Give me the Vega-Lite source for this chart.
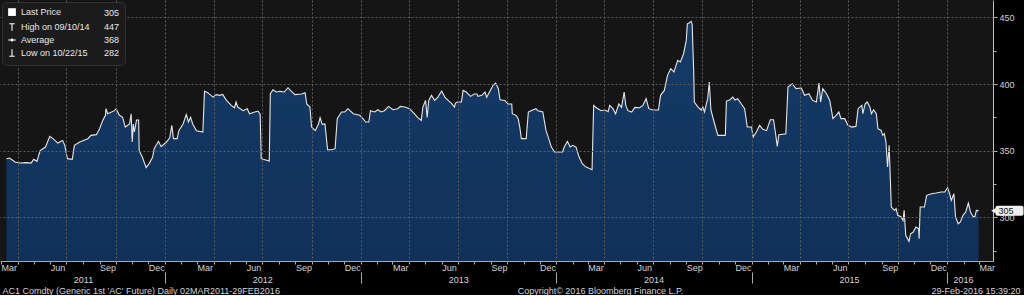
{
  "$schema": "https://vega.github.io/schema/vega-lite/v6.json",
  "width": 993,
  "height": 261,
  "padding": 0,
  "background": "#000000",
  "config": {
    "font": "Liberation Sans",
    "view": {"fill": "#151515", "stroke": null},
    "axis": {"labelFont": "Liberation Sans", "titleFont": "Liberation Sans", "labelColor": "#d4d4d4", "titleColor": "#d4d4d4", "labelFontSize": 9, "titleFontSize": 9, "titleFontWeight": "normal", "domainColor": "#a8a8a8", "tickColor": "#b0b0b0", "grid": false},
    "legend": {"labelFont": "Liberation Sans"}
  },
  "datasets": {
    "price": [
      {"d":"2011-03-11","v":344},{"d":"2011-03-17","v":344.5},{"d":"2011-03-27","v":341.5},{"d":"2011-04-05","v":340.7},{"d":"2011-04-17","v":341},{"d":"2011-04-26","v":340.7},{"d":"2011-05-01","v":343.5},{"d":"2011-05-07","v":342},{"d":"2011-05-13","v":350},{"d":"2011-05-23","v":352.7},{"d":"2011-05-31","v":360.7},{"d":"2011-06-06","v":359},{"d":"2011-06-15","v":355.7},{"d":"2011-06-24","v":357.7},{"d":"2011-06-28","v":354},{"d":"2011-07-03","v":344},{"d":"2011-07-12","v":343.5},{"d":"2011-07-16","v":354},{"d":"2011-07-26","v":356.5},{"d":"2011-08-04","v":358},{"d":"2011-08-10","v":359},{"d":"2011-08-16","v":361.5},{"d":"2011-08-26","v":362},{"d":"2011-09-01","v":366.5},{"d":"2011-09-07","v":372.7},{"d":"2011-09-12","v":376.5},{"d":"2011-09-13","v":381.5},{"d":"2011-09-16","v":377.7},{"d":"2011-09-29","v":380},{"d":"2011-10-02","v":381.5},{"d":"2011-10-08","v":376.5},{"d":"2011-10-14","v":375},{"d":"2011-10-19","v":367.7},{"d":"2011-10-27","v":370},{"d":"2011-10-30","v":377.7},{"d":"2011-11-01","v":356.5},{"d":"2011-11-03","v":370},{"d":"2011-11-05","v":364},{"d":"2011-11-09","v":373},{"d":"2011-11-13","v":373},{"d":"2011-11-14","v":350},{"d":"2011-11-20","v":345},{"d":"2011-11-27","v":337.3},{"d":"2011-12-03","v":340.5},{"d":"2011-12-09","v":345},{"d":"2011-12-12","v":351.5},{"d":"2011-12-20","v":357},{"d":"2011-12-25","v":353},
      {"d":"2012-01-04","v":356.5},{"d":"2012-01-10","v":359.7},{"d":"2012-01-14","v":369},{"d":"2012-01-17","v":359},{"d":"2012-01-24","v":359},{"d":"2012-01-27","v":365},{"d":"2012-02-04","v":370},{"d":"2012-02-10","v":377},{"d":"2012-02-14","v":371.5},{"d":"2012-02-18","v":375},{"d":"2012-02-22","v":370},{"d":"2012-02-29","v":365},{"d":"2012-03-12","v":364},{"d":"2012-03-15","v":394.7},{"d":"2012-03-21","v":393.5},{"d":"2012-03-31","v":390.2},{"d":"2012-04-06","v":392},{"d":"2012-04-12","v":391.5},{"d":"2012-04-18","v":392.2},{"d":"2012-04-25","v":387.7},{"d":"2012-05-04","v":384},{"d":"2012-05-10","v":382.2},{"d":"2012-05-13","v":386.5},{"d":"2012-05-16","v":382.7},{"d":"2012-05-26","v":380},{"d":"2012-06-03","v":381.5},{"d":"2012-06-07","v":377.7},{"d":"2012-06-17","v":379},{"d":"2012-06-23","v":379.7},{"d":"2012-06-27","v":377.2},{"d":"2012-06-29","v":344},{"d":"2012-07-06","v":343.2},{"d":"2012-07-14","v":342.2},{"d":"2012-07-16","v":392.7},{"d":"2012-07-21","v":395.7},{"d":"2012-07-27","v":394},{"d":"2012-08-03","v":394.5},{"d":"2012-08-11","v":394},{"d":"2012-08-18","v":397.2},{"d":"2012-08-24","v":394.7},{"d":"2012-08-31","v":392},{"d":"2012-09-12","v":392.5},{"d":"2012-09-19","v":393.5},{"d":"2012-09-22","v":385},{"d":"2012-09-28","v":382.7},{"d":"2012-10-01","v":367.7},{"d":"2012-10-08","v":365},{"d":"2012-10-14","v":370},{"d":"2012-10-17","v":374.7},{"d":"2012-10-21","v":369.7},{"d":"2012-10-26","v":370},{"d":"2012-10-31","v":350.7},{"d":"2012-11-08","v":350.7},{"d":"2012-11-14","v":351.5},{"d":"2012-11-18","v":374},{"d":"2012-11-26","v":379},{"d":"2012-12-02","v":379},{"d":"2012-12-08","v":381.5},{"d":"2012-12-18","v":377.7},{"d":"2012-12-30","v":376.5},
      {"d":"2013-01-05","v":374},{"d":"2013-01-10","v":371.5},{"d":"2013-01-16","v":371.5},{"d":"2013-01-19","v":380},{"d":"2013-01-27","v":379},{"d":"2013-02-02","v":380.7},{"d":"2013-02-08","v":379},{"d":"2013-02-14","v":380},{"d":"2013-02-22","v":383.2},{"d":"2013-03-02","v":380.7},{"d":"2013-03-11","v":381.5},{"d":"2013-03-16","v":383.2},{"d":"2013-03-24","v":382.7},{"d":"2013-04-02","v":381.5},{"d":"2013-04-11","v":377.7},{"d":"2013-04-17","v":375},{"d":"2013-04-24","v":372.7},{"d":"2013-04-27","v":382.7},{"d":"2013-05-02","v":387.7},{"d":"2013-05-05","v":375},{"d":"2013-05-08","v":387.7},{"d":"2013-05-13","v":391.5},{"d":"2013-05-19","v":387.7},{"d":"2013-05-25","v":390.2},{"d":"2013-06-01","v":394.7},{"d":"2013-06-07","v":390.2},{"d":"2013-06-13","v":387.7},{"d":"2013-06-19","v":385.7},{"d":"2013-06-25","v":382.7},{"d":"2013-06-27","v":385.7},{"d":"2013-07-01","v":386.5},{"d":"2013-07-08","v":386.5},{"d":"2013-07-11","v":395.2},{"d":"2013-07-17","v":394},{"d":"2013-07-25","v":390.7},{"d":"2013-08-01","v":392.5},{"d":"2013-08-06","v":392.5},{"d":"2013-08-08","v":390.7},{"d":"2013-08-15","v":391.5},{"d":"2013-08-21","v":394},{"d":"2013-08-24","v":390},{"d":"2013-08-31","v":395.2},{"d":"2013-09-05","v":399},{"d":"2013-09-10","v":400.7},{"d":"2013-09-15","v":396.5},{"d":"2013-09-18","v":388.2},{"d":"2013-09-27","v":387.7},{"d":"2013-10-03","v":385},{"d":"2013-10-10","v":385},{"d":"2013-10-11","v":377.7},{"d":"2013-10-18","v":376.5},{"d":"2013-10-22","v":374},{"d":"2013-10-25","v":367.7},{"d":"2013-10-28","v":359},{"d":"2013-11-06","v":359},{"d":"2013-11-10","v":379},{"d":"2013-11-15","v":380},{"d":"2013-11-24","v":381.5},{"d":"2013-11-28","v":380},{"d":"2013-12-07","v":379},{"d":"2013-12-13","v":365},{"d":"2013-12-16","v":361.5},{"d":"2013-12-23","v":352.7},{"d":"2013-12-29","v":349},
      {"d":"2014-01-13","v":349},{"d":"2014-01-16","v":352.7},{"d":"2014-01-22","v":357},{"d":"2014-01-27","v":352.7},{"d":"2014-02-01","v":354},{"d":"2014-02-07","v":352.7},{"d":"2014-02-13","v":345},{"d":"2014-02-19","v":340},{"d":"2014-02-26","v":337.7},{"d":"2014-03-09","v":335.7},{"d":"2014-03-12","v":384},{"d":"2014-03-17","v":382.2},{"d":"2014-03-26","v":380},{"d":"2014-04-02","v":380.5},{"d":"2014-04-08","v":379.2},{"d":"2014-04-11","v":384},{"d":"2014-04-17","v":381.5},{"d":"2014-04-22","v":377.7},{"d":"2014-04-28","v":385},{"d":"2014-05-03","v":382.5},{"d":"2014-05-08","v":394},{"d":"2014-05-11","v":384},{"d":"2014-05-15","v":380},{"d":"2014-05-22","v":379},{"d":"2014-05-28","v":382.5},{"d":"2014-06-06","v":382.2},{"d":"2014-06-12","v":384},{"d":"2014-06-18","v":389},{"d":"2014-06-23","v":381.5},{"d":"2014-07-01","v":380.5},{"d":"2014-07-11","v":380.5},{"d":"2014-07-15","v":391.5},{"d":"2014-07-22","v":395.2},{"d":"2014-07-28","v":406.5},{"d":"2014-08-03","v":411.5},{"d":"2014-08-09","v":409},{"d":"2014-08-11","v":411.5},{"d":"2014-08-16","v":417.7},{"d":"2014-08-21","v":416.5},{"d":"2014-08-27","v":422.7},{"d":"2014-09-01","v":432.7},{"d":"2014-09-03","v":445.2},{"d":"2014-09-07","v":446},{"d":"2014-09-10","v":447},{"d":"2014-09-12","v":445},{"d":"2014-09-15","v":407.7},{"d":"2014-09-16","v":386.5},{"d":"2014-09-23","v":382.7},{"d":"2014-09-29","v":380.5},{"d":"2014-10-02","v":382.7},{"d":"2014-10-05","v":379},{"d":"2014-10-11","v":389},{"d":"2014-10-14","v":401.5},{"d":"2014-10-17","v":380.5},{"d":"2014-10-24","v":370},{"d":"2014-10-30","v":361.5},{"d":"2014-11-09","v":361.5},{"d":"2014-11-13","v":361.5},{"d":"2014-11-15","v":387.2},{"d":"2014-11-21","v":388},{"d":"2014-11-27","v":390.2},{"d":"2014-12-01","v":388},{"d":"2014-12-06","v":389},{"d":"2014-12-13","v":385},{"d":"2014-12-19","v":381.5},{"d":"2014-12-24","v":367.7},
      {"d":"2015-01-01","v":367.7},{"d":"2015-01-04","v":360.2},{"d":"2015-01-10","v":364},{"d":"2015-01-16","v":369},{"d":"2015-01-22","v":366},{"d":"2015-01-29","v":365},{"d":"2015-02-05","v":373.2},{"d":"2015-02-11","v":373.2},{"d":"2015-02-15","v":362.2},{"d":"2015-02-18","v":353.2},{"d":"2015-02-21","v":362},{"d":"2015-03-06","v":362.7},{"d":"2015-03-10","v":397.7},{"d":"2015-03-18","v":400.2},{"d":"2015-03-25","v":396.5},{"d":"2015-04-04","v":397},{"d":"2015-04-10","v":391.5},{"d":"2015-04-18","v":392.7},{"d":"2015-04-25","v":387.7},{"d":"2015-05-02","v":386.5},{"d":"2015-05-07","v":400.7},{"d":"2015-05-10","v":386.5},{"d":"2015-05-14","v":396.5},{"d":"2015-05-21","v":392.7},{"d":"2015-05-27","v":387.7},{"d":"2015-06-02","v":374},{"d":"2015-06-08","v":376.5},{"d":"2015-06-13","v":379},{"d":"2015-06-17","v":374},{"d":"2015-06-24","v":374},{"d":"2015-06-30","v":369},{"d":"2015-07-07","v":367.7},{"d":"2015-07-15","v":368.2},{"d":"2015-07-19","v":381.5},{"d":"2015-07-26","v":384},{"d":"2015-07-28","v":377.7},{"d":"2015-08-01","v":385},{"d":"2015-08-05","v":386.5},{"d":"2015-08-10","v":382.7},{"d":"2015-08-13","v":377.7},{"d":"2015-08-17","v":380.7},{"d":"2015-08-22","v":377.7},{"d":"2015-08-25","v":366.5},{"d":"2015-08-31","v":365.2},{"d":"2015-09-03","v":361.5},{"d":"2015-09-06","v":362.7},{"d":"2015-09-09","v":356.5},{"d":"2015-09-12","v":337.7},{"d":"2015-09-15","v":354},{"d":"2015-09-19","v":307.7},{"d":"2015-09-25","v":305.2},{"d":"2015-09-28","v":306.5},{"d":"2015-10-01","v":301.5},{"d":"2015-10-07","v":300.5},{"d":"2015-10-11","v":297.7},{"d":"2015-10-13","v":305.2},{"d":"2015-10-16","v":286.5},{"d":"2015-10-22","v":282},{"d":"2015-10-25","v":287.7},{"d":"2015-10-30","v":289},{"d":"2015-11-04","v":292.7},{"d":"2015-11-09","v":291.5},{"d":"2015-11-10","v":284},{"d":"2015-11-12","v":307.7},{"d":"2015-11-20","v":307.7},{"d":"2015-11-24","v":316.5},{"d":"2015-12-03","v":317.7},{"d":"2015-12-12","v":318.2},{"d":"2015-12-21","v":319},{"d":"2015-12-28","v":319},
      {"d":"2016-01-02","v":322.2},{"d":"2016-01-06","v":317.7},{"d":"2016-01-09","v":312.7},{"d":"2016-01-14","v":317.7},{"d":"2016-01-17","v":300.2},{"d":"2016-01-22","v":295.2},{"d":"2016-01-26","v":296.5},{"d":"2016-01-31","v":301.5},{"d":"2016-02-05","v":304},{"d":"2016-02-10","v":310.7},{"d":"2016-02-14","v":304},{"d":"2016-02-19","v":300.5},{"d":"2016-02-22","v":300.5},{"d":"2016-02-25","v":305.2},{"d":"2016-02-29","v":305}
    ],
    "keys": [
      {"k":"Last Price","d":"2016-02-29","v":305},
      {"k":"High on 09/10/14","d":"2014-09-10","v":447},
      {"k":"Average","d":"2016-02-29","v":368},
      {"k":"Low on 10/22/15","d":"2015-10-22","v":282}
    ],
    "last": [{"d":"2016-02-29","v":305}]
  },
  "resolve": {"axis": {"x": "independent", "y": "independent"}},
  "layer": [
    {
      "data": {"name": "price"},
      "mark": {"type": "area", "clip": true, "color": {"gradient": "linear", "x1": 0, "y1": 0, "x2": 0, "y2": 1, "stops": [{"offset": 0, "color": "#143b67"}, {"offset": 1, "color": "#0a2143"}]}},
      "encoding": {
        "x": {"field": "d", "type": "temporal", "scale": {"type": "utc", "domain": [{"year": 2011, "month": 2, "date": 27, "utc": true}, {"year": 2016, "month": 3, "date": 27, "utc": true}]},
          "axis": {"orient": "bottom", "tickCount": {"interval": "month", "step": 1}, "labels": false, "tickSize": 3, "domain": true, "grid": false, "title": "Copyright© 2016 Bloomberg Finance L.P.", "titleX": 600, "titleY": 29, "titleAlign": "center", "titleBaseline": "middle"}},
        "y": {"field": "v", "type": "quantitative", "scale": {"domain": [267.25, 463], "zero": false, "nice": false},
          "axis": {"orient": "right", "values": [300, 350, 400, 450], "tickSize": 4, "labelPadding": 2, "domain": true, "domainColor": "#c0c0c0", "grid": false, "title": null}}
      }
    },
    {
      "data": {"name": "price"},
      "mark": {"type": "line", "clip": true, "color": "#e6e6e6", "strokeWidth": 1.1},
      "encoding": {
        "x": {"field": "d", "type": "temporal",
          "axis": {"orient": "bottom", "tickCount": {"interval": "month", "step": 1}, "ticks": false, "domain": false, "labelExpr": "indexof([2,5,8,11], utcmonth(datum.value)) >= 0 ? utcFormat(datum.value, '%b') : ''", "labelAlign": "left", "labelOverlap": false, "labelFlush": false, "labelBound": false, "labelPadding": 2, "title": "29-Feb-2016 15:39:20", "titleX": 1020, "titleY": 29, "titleAlign": "right", "titleBaseline": "middle"}},
        "y": {"field": "v", "type": "quantitative",
          "axis": {"orient": "right", "values": [300, 350, 400, 450], "grid": true, "gridDash": [2, 2], "gridColor": "#5c5c5c", "ticks": false, "labels": false, "domain": false, "title": null, "zindex": 1}}
      }
    },
    {
      "data": {"name": "keys"},
      "mark": {"type": "point", "filled": true, "color": "#ffffff", "opacity": 0, "size": 50},
      "encoding": {
        "x": {"field": "d", "type": "temporal",
          "axis": {"orient": "bottom", "values": [{"year": 2011, "month": 8, "date": 1, "utc": true}, {"year": 2012, "month": 7, "date": 1, "utc": true}, {"year": 2013, "month": 7, "date": 2, "utc": true}, {"year": 2014, "month": 7, "date": 2, "utc": true}, {"year": 2015, "month": 7, "date": 2, "utc": true}, {"year": 2016, "month": 1, "date": 31, "utc": true}], "labelExpr": "utcFormat(datum.value, '%Y')", "ticks": false, "domain": false, "labelPadding": 14, "labelFlush": false, "labelOverlap": false, "title": "AC1 Comdty (Generic 1st 'AC' Future)  Daily 02MAR2011-29FEB2016", "titleX": 2, "titleY": 29, "titleAlign": "left", "titleBaseline": "middle"}},
        "y": {"field": "v", "type": "quantitative",
          "axis": {"orient": "right", "values": [275, 325, 375, 425], "tickSize": 3, "labels": false, "domain": false, "title": null}},
        "shape": {"field": "k", "type": "nominal",
          "scale": {"domain": ["Last Price", "High on 09/10/14", "Average", "Low on 10/22/15", "305", "447", "368", "282"],
            "range": ["square", "M-0.7,-1H0.7V-0.72H-0.7ZM-0.14,-1H0.14V1H-0.14Z", "M-1,-0.12H1V0.12H-1ZM0,-0.4A0.4,0.4,0,1,1,0,0.4A0.4,0.4,0,1,1,0,-0.4Z", "M-0.14,-1H0.14V1H-0.14ZM-0.7,0.72H0.7V1H-0.7Z", "M0,0", "M0,0", "M0,0", "M0,0"]},
          "legend": {"title": null, "orient": "top-left", "offset": 2, "columns": 2, "gridAlign": "each", "columnPadding": 0, "rowPadding": 1, "padding": 5, "fillColor": "#1b1b1b", "strokeColor": "#303030", "cornerRadius": 4, "symbolSize": 60, "symbolFillColor": "#ffffff", "symbolOpacity": 1, "labelColor": "#e8e8e8", "labelFontSize": 9, "labelOffset": 4, "zindex": 2}}
      }
    },
    {
      "data": {"name": "last"},
      "mark": {"type": "rect", "color": "#eeeeee", "xOffset": 17, "x2Offset": 45, "yOffset": -5, "y2Offset": 5, "cornerRadius": 2},
      "encoding": {
        "x": {"field": "d", "type": "temporal",
          "axis": {"orient": "bottom", "tickCount": {"interval": "year", "step": 1}, "labels": false, "domain": false, "tickSize": 22, "tickDash": [0, 11, 11, 0], "tickColor": "#aaaaaa", "title": null}},
        "x2": {"field": "d"},
        "y": {"field": "v", "type": "quantitative", "axis": null},
        "y2": {"field": "v"}
      }
    },
    {
      "data": {"name": "last"},
      "mark": {"type": "point", "shape": "triangle-left", "filled": true, "color": "#eeeeee", "opacity": 1, "size": 30, "xOffset": 15},
      "encoding": {
        "x": {"field": "d", "type": "temporal",
          "axis": {"orient": "bottom", "tickCount": {"interval": "month", "step": 3}, "grid": true, "gridDash": [2, 2], "gridColor": "#5c5c5c", "ticks": false, "labels": false, "domain": false, "title": null, "zindex": 1}},
        "y": {"field": "v", "type": "quantitative", "axis": null}
      }
    },
    {
      "data": {"name": "last"},
      "mark": {"type": "text", "align": "left", "baseline": "middle", "dx": 20, "color": "#111111", "fontSize": 9, "font": "Liberation Sans"},
      "encoding": {
        "x": {"field": "d", "type": "temporal", "axis": null},
        "y": {"field": "v", "type": "quantitative", "axis": null},
        "text": {"field": "v", "type": "quantitative"}
      }
    }
  ]
}
